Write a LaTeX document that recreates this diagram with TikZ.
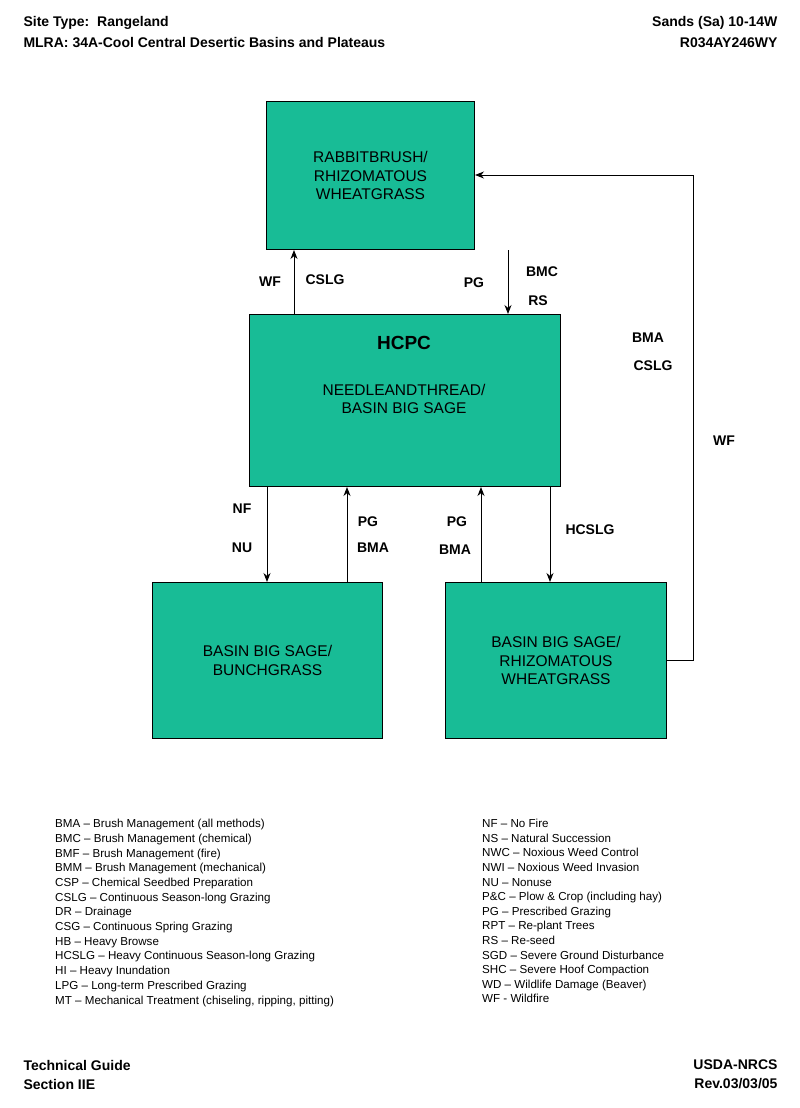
\documentclass[tikz,border=0pt]{standalone}
\usepackage{fontspec}
\setmainfont{Liberation Sans}
\usetikzlibrary{arrows.meta}
\definecolor{boxg}{RGB}{24,188,150}
\begin{document}
\begin{tikzpicture}[x=1pt,y=-1pt,
 st/.style={draw=black,fill=boxg,line width=1pt,align=center,font=\fontsize{15.5}{18.5}\selectfont,anchor=north west,inner sep=0pt},
 lb/.style={font=\bfseries\fontsize{14}{15}\selectfont},
 hd/.style={font=\bfseries\fontsize{14}{15}\selectfont,align=left},
 ar/.style={-{Stealth[length=9pt,width=7pt]},line width=1pt},
 lg/.style={align=left,anchor=north west,inner sep=0pt}]
\useasboundingbox[fill=white] (0,0) rectangle (800,1108);
\node[st,minimum width=208pt,minimum height=148pt] (rab) at (266,101) {RABBITBRUSH/\\RHIZOMATOUS\\WHEATGRASS};
\node[st,minimum width=311pt,minimum height=172pt] (hcpc) at (249,314) {};
\node[font=\bfseries\fontsize{19}{20}\selectfont] (ht) at (404,343) {HCPC};
\node[align=center,font=\fontsize{15.5}{18.5}\selectfont] (htx) at (404,399) {NEEDLEANDTHREAD/\\BASIN BIG SAGE};
\node[st,minimum width=230pt,minimum height=156pt] (bl) at (152,582) {BASIN BIG SAGE/\\BUNCHGRASS};
\node[st,minimum width=221pt,minimum height=156pt] (br) at (445,582) {BASIN BIG SAGE/\\RHIZOMATOUS\\WHEATGRASS};
\draw[ar] (hcpc.north west -| 294,0) -- (rab.south west -| 294,0);
\draw[ar] (rab.south west -| 508,0) -- (hcpc.north west -| 508,0);
\draw[ar] (hcpc.south west -| 267,0) -- (bl.north west -| 267,0);
\draw[ar] (bl.north west -| 347,0) -- (hcpc.south west -| 347,0);
\draw[ar] (br.north west -| 481,0) -- (hcpc.south west -| 481,0);
\draw[ar] (hcpc.south west -| 550,0) -- (br.north west -| 550,0);
\coordinate (c1) at (693,660);
\coordinate (c2) at (693,175);
\draw[ar] (br.east |- c1) -- (c1) -- (c2) -- (rab.east |- c2);
\node[lb] (l1) at (270,282) {WF};
\node[lb] (l2) at (325,280) {CSLG};
\node[lb] (l3) at (474,283) {PG};
\node[lb] (l4) at (542,272) {BMC};
\node[lb] (l5) at (538,301) {RS};
\node[lb] (l6) at (648,338) {BMA};
\node[lb] (l7) at (653,366) {CSLG};
\node[lb] (l8) at (724,441) {WF};
\node[lb] (l9) at (242,509) {NF};
\node[lb] (l10) at (242,548) {NU};
\node[lb] (l11) at (368,522) {PG};
\node[lb] (l12) at (373,548) {BMA};
\node[lb] (l13) at (457,522) {PG};
\node[lb] (l14) at (455,550) {BMA};
\node[lb] (l15) at (590,530) {HCSLG};
\node[hd,anchor=west] (h1) at (20,23) {Site Type:\ \ Rangeland};
\node[hd,anchor=west] (h2) at (20,43) {MLRA: 34A-Cool Central Desertic Basins and Plateaus};
\node[hd,anchor=east] (h3) at (781,23) {Sands (Sa) 10-14W};
\node[hd,anchor=east] (h4) at (781,43) {R034AY246WY};
\node[hd,anchor=west] (f1) at (20,1065) {Technical Guide};
\node[hd,anchor=west] (f2) at (20,1084) {Section IIE};
\node[hd,anchor=east] (f3) at (781,1065) {USDA-NRCS};
\node[hd,anchor=east] (f4) at (781,1084) {Rev.03/03/05};
\node[lg,font=\fontsize{11.6}{14.7}\selectfont] (lgl) at (55,819) {BMA -- Brush Management (all methods)\\BMC -- Brush Management (chemical)\\BMF -- Brush Management (fire)\\BMM -- Brush Management (mechanical)\\CSP -- Chemical Seedbed Preparation\\CSLG -- Continuous Season-long Grazing\\DR -- Drainage\\CSG -- Continuous Spring Grazing\\HB -- Heavy Browse\\HCSLG -- Heavy Continuous Season-long Grazing\\HI -- Heavy Inundation\\LPG -- Long-term Prescribed Grazing\\MT -- Mechanical Treatment (chiseling, ripping, pitting)};
\node[lg,font=\fontsize{11.6}{14.6}\selectfont] (lgr) at (482,819) {NF -- No Fire\\NS -- Natural Succession\\NWC -- Noxious Weed Control\\NWI -- Noxious Weed Invasion\\NU -- Nonuse\\P\&C -- Plow \& Crop (including hay)\\PG -- Prescribed Grazing\\RPT -- Re-plant Trees\\RS -- Re-seed\\SGD -- Severe Ground Disturbance\\SHC -- Severe Hoof Compaction\\WD -- Wildlife Damage (Beaver)\\WF - Wildfire};
\end{tikzpicture}
\end{document}
